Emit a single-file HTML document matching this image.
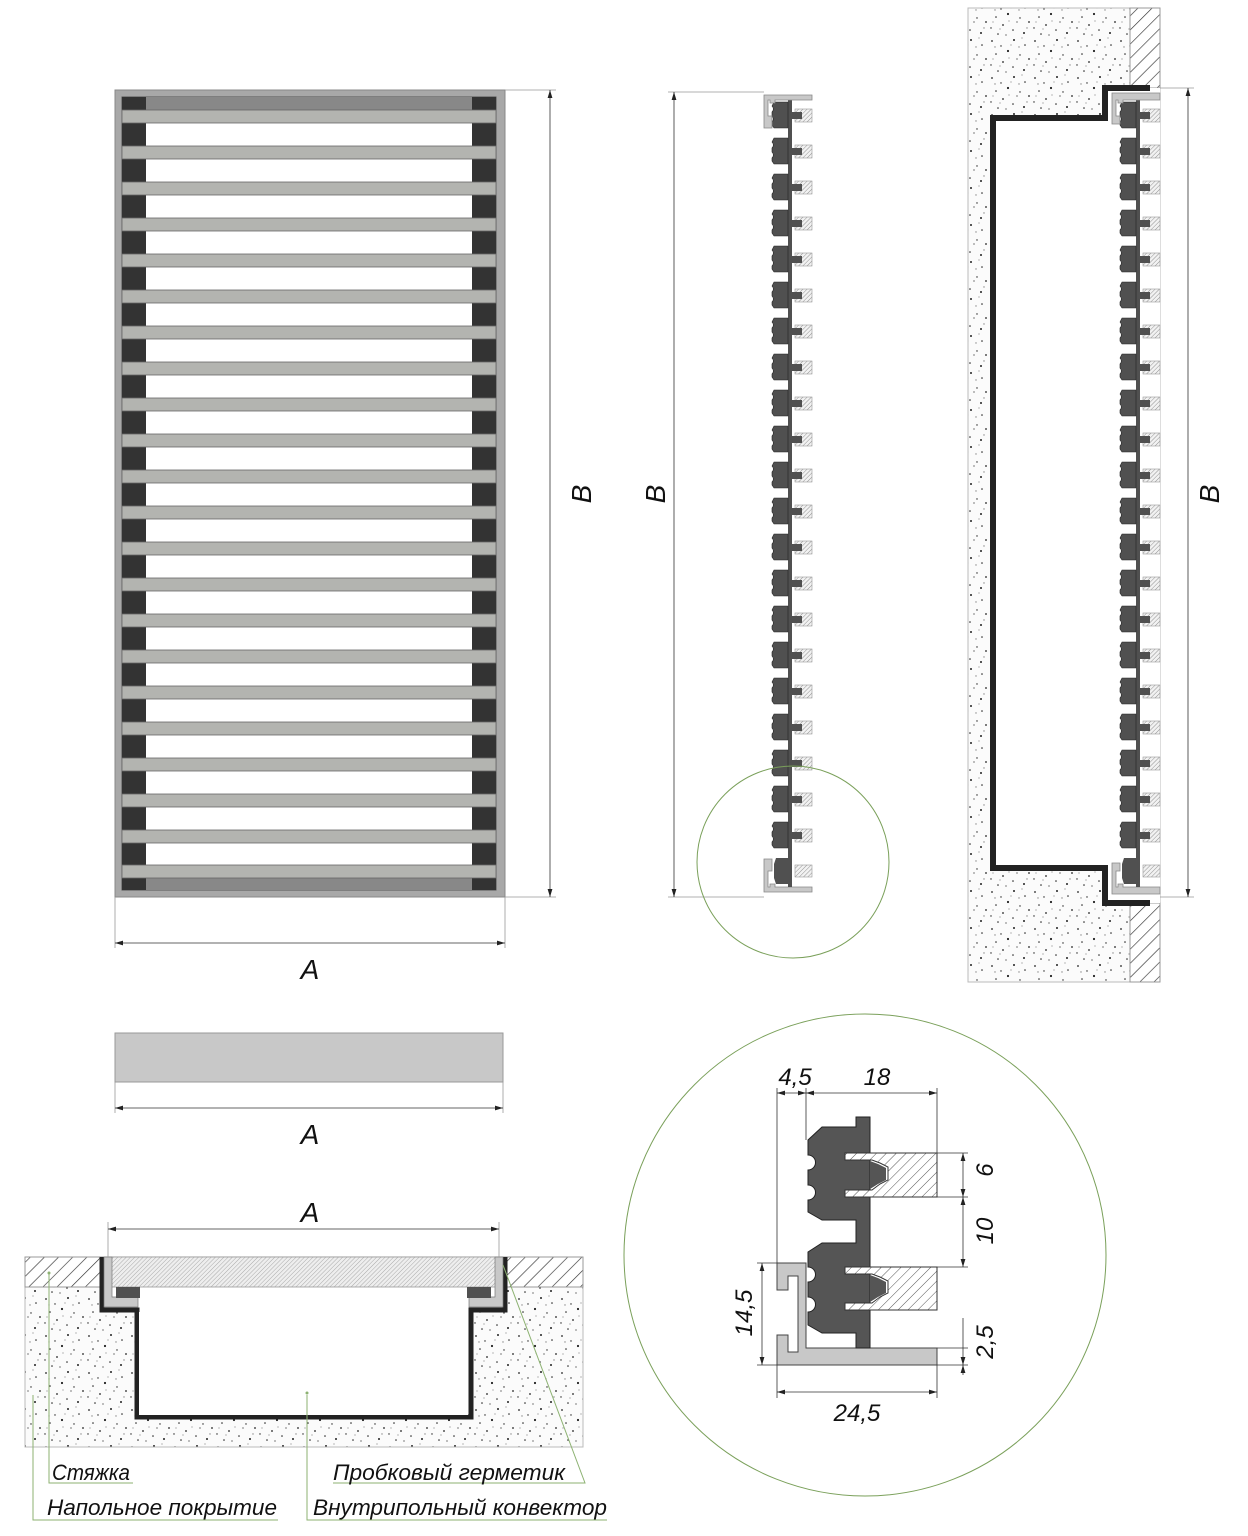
<!DOCTYPE html>
<html><head><meta charset="utf-8"><style>
html,body{margin:0;padding:0;background:#fff;}
svg{display:block;}
text{font-family:"Liberation Sans",sans-serif;font-style:italic;fill:#111;}
</style></head><body>
<svg width="1248" height="1536" viewBox="0 0 1248 1536" xmlns="http://www.w3.org/2000/svg">
<defs>
<pattern id="dots" width="43" height="37" patternUnits="userSpaceOnUse">
<rect width="43" height="37" fill="#fbfbfb"/>
<g fill="#222">
<circle cx="3" cy="4" r="0.9"/><circle cx="12" cy="9" r="0.7"/><circle cx="25" cy="3" r="1"/><circle cx="36" cy="8" r="0.8"/>
<circle cx="7" cy="17" r="0.8"/><circle cx="19" cy="14" r="1.1"/><circle cx="31" cy="18" r="0.7"/><circle cx="40" cy="22" r="0.9"/>
<circle cx="2" cy="28" r="0.7"/><circle cx="14" cy="25" r="0.9"/><circle cx="24" cy="30" r="0.8"/><circle cx="35" cy="33" r="1"/>
<circle cx="9" cy="34" r="0.8"/><circle cx="28" cy="22" r="0.6"/><circle cx="17" cy="35" r="0.6"/>
</g>
<g fill="#888">
<circle cx="6" cy="10" r="0.7"/><circle cx="30" cy="10" r="0.7"/><circle cx="20" cy="21" r="0.6"/><circle cx="38" cy="28" r="0.7"/>
<circle cx="11" cy="29" r="0.6"/><circle cx="33" cy="1" r="0.6"/><circle cx="4" cy="22" r="0.6"/><circle cx="22" cy="8" r="0.6"/>
</g>
</pattern>
<pattern id="hatch" width="7" height="7" patternUnits="userSpaceOnUse" patternTransform="rotate(45)">
<rect width="7" height="7" fill="#fff"/><line x1="0" y1="0" x2="0" y2="7" stroke="#555" stroke-width="1"/>
</pattern>
<pattern id="fhatch" width="3" height="3" patternUnits="userSpaceOnUse" patternTransform="rotate(45)">
<rect width="3" height="3" fill="#eee"/><line x1="0" y1="0" x2="0" y2="3" stroke="#999" stroke-width="0.8"/>
</pattern>
<pattern id="shatch" width="3" height="3" patternUnits="userSpaceOnUse" patternTransform="rotate(45)">
<rect width="3" height="3" fill="#f2f2f2"/><line x1="0" y1="0" x2="0" y2="3" stroke="#888" stroke-width="0.9"/>
</pattern>
<pattern id="bighatch" width="10" height="10" patternUnits="userSpaceOnUse" patternTransform="rotate(45)">
<rect width="10" height="10" fill="#fff"/><line x1="0" y1="0" x2="0" y2="10" stroke="#333" stroke-width="1.3"/>
</pattern>
<g id="unit">
<rect x="23" y="0" width="4" height="36" fill="#505050"/>
<path d="M9 2 L23 2 L23 28 L9 28 L7 25 L7 22 A4 4 0 0 0 7 16 L7 12 A4 4 0 0 0 7 6 Z" fill="#505050" stroke="#222" stroke-width="0.6"/>
<rect x="30" y="9" width="17" height="13" fill="url(#shatch)" stroke="#999" stroke-width="0.6"/>
<rect x="25" y="12" width="12" height="7" fill="#505050"/>
</g>
<pattern id="prof" x="765" y="100" width="50" height="36" patternUnits="userSpaceOnUse">
<use href="#unit"/>
</pattern>
<pattern id="prof2" x="1113" y="100" width="50" height="36" patternUnits="userSpaceOnUse">
<use href="#unit"/>
</pattern>
<marker id="ar" viewBox="0 0 10 6" refX="10" refY="3" markerWidth="10" markerHeight="6" orient="auto-start-reverse"><path d="M0 0 L10 3 L0 6 Z" fill="#222"/></marker>
</defs>

<!-- LEFT GRILLE PLAN -->
<rect x="115" y="90" width="390" height="807" fill="#a8a8a8" stroke="#888"/>
<rect x="122" y="97" width="374" height="793" fill="#fff" stroke="#555"/>
<rect x="122" y="97" width="24" height="793" fill="#333"/>
<rect x="472" y="97" width="24" height="793" fill="#333"/>
<rect x="146" y="97" width="326" height="13" fill="#888"/>
<rect x="146" y="878" width="326" height="12" fill="#888"/>
<g fill="#b3b4b0" stroke="#666" stroke-width="0.8">
<rect x="122" y="110" width="374" height="13"/><rect x="122" y="146" width="374" height="13"/><rect x="122" y="182" width="374" height="13"/>
<rect x="122" y="218" width="374" height="13"/><rect x="122" y="254" width="374" height="13"/><rect x="122" y="290" width="374" height="13"/>
<rect x="122" y="326" width="374" height="13"/><rect x="122" y="362" width="374" height="13"/><rect x="122" y="398" width="374" height="13"/>
<rect x="122" y="434" width="374" height="13"/><rect x="122" y="470" width="374" height="13"/><rect x="122" y="506" width="374" height="13"/>
<rect x="122" y="542" width="374" height="13"/><rect x="122" y="578" width="374" height="13"/><rect x="122" y="614" width="374" height="13"/>
<rect x="122" y="650" width="374" height="13"/><rect x="122" y="686" width="374" height="13"/><rect x="122" y="722" width="374" height="13"/>
<rect x="122" y="758" width="374" height="13"/><rect x="122" y="794" width="374" height="13"/><rect x="122" y="830" width="374" height="13"/>
<rect x="122" y="865" width="374" height="13"/>
</g>
<g stroke="#999" stroke-width="0.8" fill="none">
<line x1="505" y1="90" x2="556" y2="90"/><line x1="505" y1="897" x2="556" y2="897"/>
<line x1="115" y1="897" x2="115" y2="948"/><line x1="505" y1="897" x2="505" y2="948"/>
</g>
<g stroke="#333" stroke-width="0.8">
<line x1="550" y1="90" x2="550" y2="897" marker-start="url(#ar)" marker-end="url(#ar)"/>
<line x1="115" y1="943" x2="505" y2="943" marker-start="url(#ar)" marker-end="url(#ar)"/>
</g>
<text x="591" y="494" font-size="28" transform="rotate(-90 591 494)" text-anchor="middle">B</text>
<text x="310" y="979" font-size="28" text-anchor="middle">A</text>

<!-- BAR -->
<rect x="115" y="1033" width="388" height="49" fill="#c8c8c8" stroke="#999"/>
<line x1="115" y1="1082" x2="115" y2="1113" stroke="#999" stroke-width="0.8"/>
<line x1="503" y1="1082" x2="503" y2="1113" stroke="#999" stroke-width="0.8"/>
<line x1="115" y1="1108" x2="503" y2="1108" stroke="#333" stroke-width="0.8" marker-start="url(#ar)" marker-end="url(#ar)"/>
<text x="310" y="1144" font-size="28" text-anchor="middle">A</text>

<!-- MIDDLE PROFILE -->
<rect x="765" y="100" width="50" height="756" fill="url(#prof)"/>
<g fill="#c8c8c8" stroke="#888" stroke-width="0.8">
<path d="M764 95 L812 95 L812 100 L775 100 L775 103 L770 103 L770 100 L768 100 L768 116 L772 116 L772 128 L764 128 Z"/>
<path d="M764 892 L812 892 L812 887 L775 887 L775 884 L770 884 L770 887 L768 887 L768 871 L772 871 L772 859 L764 859 Z"/>
</g>
<rect x="788" y="856" width="4" height="31" fill="#505050"/>
<path d="M776 858 L788 858 L788 884 L776 884 L774 878 L774 864 Z" fill="#505050"/>
<rect x="795" y="865" width="17" height="12" fill="url(#shatch)" stroke="#999" stroke-width="0.6"/>
<g stroke="#999" stroke-width="0.8">
<line x1="668" y1="92" x2="764" y2="92"/><line x1="668" y1="897" x2="764" y2="897"/>
</g>
<line x1="674" y1="92" x2="674" y2="897" stroke="#333" stroke-width="0.8" marker-start="url(#ar)" marker-end="url(#ar)"/>
<text x="665" y="494" font-size="28" transform="rotate(-90 665 494)" text-anchor="middle">B</text>
<circle cx="793" cy="862" r="96" fill="none" stroke="#7aa05a" stroke-width="1"/>

<!-- RIGHT SECTION -->
<rect x="968" y="8" width="192" height="974" fill="url(#dots)" stroke="#bbb"/>
<rect x="1130" y="8" width="30" height="80" fill="url(#bighatch)" stroke="#999"/>
<rect x="1130" y="903" width="30" height="79" fill="url(#bighatch)" stroke="#999"/>
<path d="M1105 88 L1160 88 L1160 903 L1105 903 L1105 868 L993 868 L993 118 L1105 118 Z" fill="#fff"/>
<path d="M1150 88 L1105 88 L1105 118 L993 118 L993 868 L1105 868 L1105 903 L1150 903" fill="none" stroke="#222" stroke-width="6"/>
<rect x="1113" y="100" width="50" height="756" fill="url(#prof2)"/>
<g fill="#c8c8c8" stroke="#888" stroke-width="0.8">
<path d="M1112 93 L1160 93 L1160 100 L1123 100 L1123 103 L1118 103 L1118 100 L1116 100 L1116 116 L1120 116 L1120 124 L1112 124 Z"/>
<path d="M1112 894 L1160 894 L1160 887 L1123 887 L1123 884 L1118 884 L1118 887 L1116 887 L1116 871 L1120 871 L1120 863 L1112 863 Z"/>
</g>
<rect x="1136" y="856" width="4" height="31" fill="#505050"/>
<path d="M1124 858 L1136 858 L1136 884 L1124 884 L1122 878 L1122 864 Z" fill="#505050"/>
<rect x="1143" y="865" width="17" height="12" fill="url(#shatch)" stroke="#999" stroke-width="0.6"/>
<g stroke="#999" stroke-width="0.8">
<line x1="1160" y1="88" x2="1194" y2="88"/><line x1="1160" y1="897" x2="1194" y2="897"/>
</g>
<line x1="1188" y1="88" x2="1188" y2="897" stroke="#333" stroke-width="0.8" marker-start="url(#ar)" marker-end="url(#ar)"/>
<text x="1219" y="494" font-size="28" transform="rotate(-90 1219 494)" text-anchor="middle">B</text>

<!-- BOTTOM SECTION -->
<rect x="25" y="1287" width="558" height="160" fill="url(#dots)" stroke="#bbb"/>
<rect x="25" y="1257" width="558" height="30" fill="url(#bighatch)" stroke="#999"/>
<path d="M102 1257 L102 1310 L137 1310 L137 1417 L471 1417 L471 1310 L505 1310 L505 1257" fill="#fff" stroke="#222" stroke-width="5"/>
<rect x="105" y="1257" width="397" height="30" fill="url(#fhatch)" stroke="#999" stroke-width="0.8"/>
<g fill="#c8c8c8" stroke="#777" stroke-width="0.7">
<path d="M104 1257 L112 1257 L112 1297 L138 1297 L138 1307 L104 1307 Z"/>
<path d="M503 1257 L495 1257 L495 1297 L469 1297 L469 1307 L503 1307 Z"/>
</g>
<rect x="116" y="1287" width="24" height="11" fill="#505050"/>
<rect x="467" y="1287" width="24" height="11" fill="#505050"/>
<rect x="139" y="1312" width="329" height="103" fill="#fff"/>
<g stroke="#999" stroke-width="0.8">
<line x1="108" y1="1222" x2="108" y2="1257"/><line x1="499" y1="1222" x2="499" y2="1257"/>
</g>
<line x1="108" y1="1229" x2="499" y2="1229" stroke="#333" stroke-width="0.8" marker-start="url(#ar)" marker-end="url(#ar)"/>
<text x="310" y="1222" font-size="28" text-anchor="middle">A</text>

<!-- leaders -->
<g stroke="#8db272" stroke-width="1" fill="none">
<polyline points="49,1273 49,1483 133,1483"/>
<polyline points="33,1395 33,1520 278,1520"/>
<polyline points="307,1395 307,1520 607,1520"/>
<polyline points="503,1265 585,1483 333,1483"/>
</g>
<circle cx="49" cy="1273" r="1.5" fill="#8db272"/>
<circle cx="307" cy="1393" r="1.5" fill="#8db272"/>
<text x="52" y="1480" font-size="22" textLength="78" lengthAdjust="spacingAndGlyphs">Стяжка</text>
<text x="47" y="1515" font-size="22" textLength="230" lengthAdjust="spacingAndGlyphs">Напольное покрытие</text>
<text x="333" y="1480" font-size="22" textLength="232" lengthAdjust="spacingAndGlyphs">Пробковый герметик</text>
<text x="313" y="1515" font-size="22" textLength="294" lengthAdjust="spacingAndGlyphs">Внутрипольный конвектор</text>

<!-- DETAIL CIRCLE -->
<circle cx="865" cy="1255" r="241" fill="none" stroke="#7aa05a" stroke-width="1"/>
<path d="M777 1263 L806 1263 L806 1348 L937 1348 L937 1365 L777 1365 L777 1335 L788 1335 L788 1352 L798 1352 L798 1276 L788 1276 L788 1290 L777 1290 Z" fill="#c8c8c8" stroke="#444" stroke-width="1"/>
<path d="M856 1117 L870 1117 L870 1348 L856 1348 L856 1333 L822 1333 L808 1325 L808 1312 A7 7 0 0 0 808 1297 L808 1282 A7 7 0 0 0 808 1267 L808 1252 L822 1243 L856 1243 L856 1220 L822 1220 L808 1212 L808 1200 A7 7 0 0 0 808 1185 L808 1170 A7 7 0 0 0 808 1155 L808 1140 L822 1127 L856 1127 Z" fill="#555" stroke="#222" stroke-width="1"/>
<path d="M845 1153 L937 1153 L937 1197 L845 1197 L845 1190 L872 1190 L880 1184 L888 1180 L888 1167 L880 1163 L872 1160 L845 1160 Z" fill="url(#hatch)" stroke="#333" stroke-width="1"/>
<path d="M845 1267 L937 1267 L937 1310 L845 1310 L845 1303 L872 1303 L880 1297 L888 1293 L888 1281 L880 1277 L872 1274 L845 1274 Z" fill="url(#hatch)" stroke="#333" stroke-width="1"/>
<path d="M870 1161 L878 1164 L886 1168 L886 1180 L878 1184 L870 1189 Z" fill="#555"/>
<path d="M870 1275 L878 1278 L886 1282 L886 1293 L878 1297 L870 1302 Z" fill="#555"/>
<g stroke="#333" stroke-width="0.8" fill="none">
<line x1="777" y1="1088" x2="777" y2="1263"/><line x1="806" y1="1088" x2="806" y2="1140"/><line x1="937" y1="1088" x2="937" y2="1153"/>
<line x1="937" y1="1153" x2="968" y2="1153"/><line x1="937" y1="1197" x2="968" y2="1197"/><line x1="937" y1="1267" x2="968" y2="1267"/>
<line x1="937" y1="1348" x2="968" y2="1348"/><line x1="937" y1="1365" x2="968" y2="1365"/>
<line x1="757" y1="1263" x2="777" y2="1263"/><line x1="757" y1="1365" x2="777" y2="1365"/>
<line x1="777" y1="1365" x2="777" y2="1398"/><line x1="937" y1="1365" x2="937" y2="1398"/>
<line x1="963" y1="1318" x2="963" y2="1348"/>
</g>
<g stroke="#333" stroke-width="0.8">
<line x1="777" y1="1093" x2="806" y2="1093" marker-start="url(#ar)" marker-end="url(#ar)"/>
<line x1="806" y1="1093" x2="937" y2="1093" marker-start="url(#ar)" marker-end="url(#ar)"/>
<line x1="963" y1="1153" x2="963" y2="1197" marker-start="url(#ar)" marker-end="url(#ar)"/>
<line x1="963" y1="1197" x2="963" y2="1267" marker-start="url(#ar)" marker-end="url(#ar)"/>
<line x1="963" y1="1348" x2="963" y2="1365" marker-end="url(#ar)"/>
<line x1="963" y1="1375" x2="963" y2="1365" marker-end="url(#ar)"/>
<line x1="762" y1="1263" x2="762" y2="1365" marker-start="url(#ar)" marker-end="url(#ar)"/>
<line x1="777" y1="1392" x2="937" y2="1392" marker-start="url(#ar)" marker-end="url(#ar)"/>
</g>
<text x="795" y="1085" font-size="24" text-anchor="middle">4,5</text>
<text x="877" y="1085" font-size="24" text-anchor="middle">18</text>
<text x="993" y="1170" font-size="24" text-anchor="middle" transform="rotate(-90 993 1170)">6</text>
<text x="993" y="1231" font-size="24" text-anchor="middle" transform="rotate(-90 993 1231)">10</text>
<text x="993" y="1342" font-size="24" text-anchor="middle" transform="rotate(-90 993 1342)">2,5</text>
<text x="752" y="1313" font-size="24" text-anchor="middle" transform="rotate(-90 752 1313)">14,5</text>
<text x="857" y="1421" font-size="24" text-anchor="middle">24,5</text>
</svg>
</body></html>
